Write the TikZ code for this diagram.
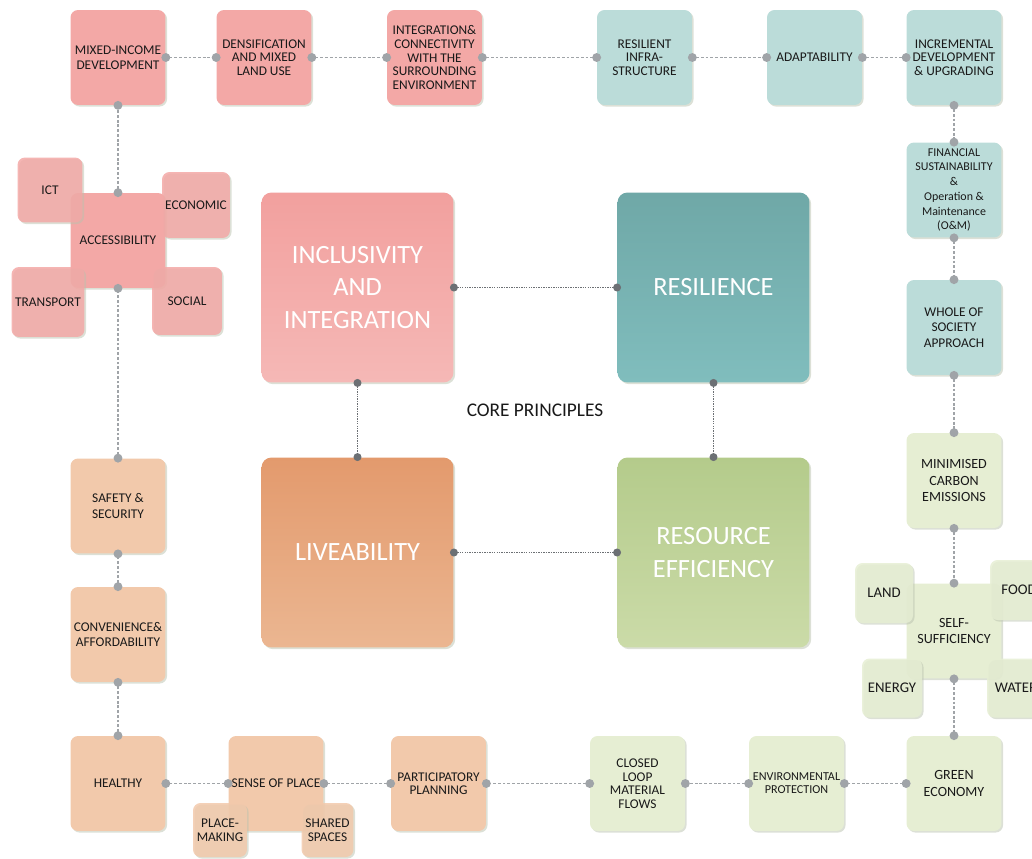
\documentclass[tikz,border=0pt]{standalone}
\usepackage{fontspec}
\setmainfont{Carlito}
\usetikzlibrary{arrows.meta,shadows}
\definecolor{incpink}{HTML}{F3A8A6}
\definecolor{respale}{HTML}{BBDCD9}
\definecolor{livpale}{HTML}{F2C9AB}
\definecolor{effpale}{HTML}{E6EED3}
\definecolor{incltop}{HTML}{F2A09E}
\definecolor{inclbot}{HTML}{F5B8B6}
\definecolor{resiltop}{HTML}{6FA8A7}
\definecolor{resilbot}{HTML}{80BDBD}
\definecolor{livetop}{HTML}{E39A6D}
\definecolor{livebot}{HTML}{EBB691}
\definecolor{efftop}{HTML}{B4CB8B}
\definecolor{effbot}{HTML}{CBDBA8}
\definecolor{linkgray}{HTML}{A0A4A8}
\definecolor{coregray}{HTML}{6C7074}
\definecolor{shadowgray}{HTML}{B9C2AE}
\begin{document}
\begin{tikzpicture}[x=0.02cm,y=-0.02cm,
    box/.style={rounded corners=0.15cm, minimum width=1.9cm, minimum height=1.9cm,
      inner sep=1pt, align=center, text=black!90,
      font=\fontsize{7.6}{8.8}\selectfont,
      drop shadow={shadow xshift=0.9pt, shadow yshift=-0.9pt, opacity=0.5, fill=shadowgray}},
    tight/.style={font=\fontsize{7.6}{7.7}\selectfont},
    large/.style={font=\fontsize{8}{9.4}\selectfont},
    inc/.style={box, fill=incpink},
    res/.style={box, fill=respale},
    liv/.style={box, fill=livpale},
    eff/.style={box, fill=effpale},
    sat/.style={fill opacity=0.85, text opacity=1},
    principle/.style={rounded corners=0.2cm, minimum width=3.84cm, minimum height=3.8cm,
      align=center, text=white, font=\fontsize{15}{18.4}\selectfont,
      drop shadow={shadow xshift=1pt, shadow yshift=-1pt, opacity=0.5, fill=shadowgray}},
    link/.style={draw=linkgray, line width=0.8pt, dash pattern=on 1.6pt off 1.1pt,
      {Circle[length=5pt]}-{Circle[length=5pt]}, shorten <=-2.5pt, shorten >=-2.5pt},
    corelink/.style={link, draw=coregray, dash pattern=on 0.8pt off 0.6pt,
      {Circle[length=4.5pt]}-{Circle[length=4.5pt]}, shorten <=-2.2pt, shorten >=-2.2pt}]
\useasboundingbox (0,0) rectangle (1032,859);
\clip (0,0) rectangle (1032,859);

% core principles
\node[principle, top color=incltop, bottom color=inclbot] (incl) at (357.5,287.5) {INCLUSIVITY\\AND\\INTEGRATION};
\node[principle, top color=resiltop, bottom color=resilbot] (resil) at (713.5,287.5) {RESILIENCE};
\node[principle, top color=livetop, bottom color=livebot] (live) at (357.5,552.5) {LIVEABILITY};
\node[principle, top color=efftop, bottom color=effbot] (reseff) at (713.5,552.5) {RESOURCE\\EFFICIENCY};
\node[font=\fontsize{11}{13}\selectfont, text=black!90] (core) at (535,410) {CORE PRINCIPLES};

% top row
\node[inc] (mixinc) at (118,57.5) {MIXED-INCOME\\DEVELOPMENT};
\node[inc, tight] (dens) at (264,57.5) {DENSIFICATION\\AND MIXED\\LAND USE};
\node[inc, tight] (integ) at (434.5,57.5) {INTEGRATION\&\\CONNECTIVITY\\WITH THE\\SURROUNDING\\ENVIRONMENT};
\node[res, tight] (resinf) at (644.5,57.5) {RESILIENT\\INFRA-\\STRUCTURE};
\node[res] (adapt) at (814.5,57.5) {ADAPTABILITY};
\node[res, tight] (incr) at (954,57.5) {INCREMENTAL\\DEVELOPMENT\\\& UPGRADING};

% right column
\node[res, font=\fontsize{6.8}{8.4}\selectfont] (fin) at (954,190) {FINANCIAL\\SUSTAINABILITY\\\&\\Operation \&\\Maintenance\\(O\&M)};
\node[res] (whole) at (954,327.5) {WHOLE OF\\SOCIETY\\APPROACH};
\node[eff, large] (mincarb) at (954,480.5) {MINIMISED\\CARBON\\EMISSIONS};
\node[eff, large] (selfsuf) at (954,631) {SELF-\\SUFFICIENCY};
\node[eff, sat, font=\fontsize{8.4}{9}\selectfont, minimum width=1.16cm, minimum height=1.2cm] (land) at (884,593) {LAND};
\node[eff, sat, font=\fontsize{8.4}{9}\selectfont, minimum width=1.16cm, minimum height=1.2cm] (food) at (1019,590) {FOOD};
\node[eff, sat, font=\fontsize{8.4}{9}\selectfont, minimum width=1.2cm, minimum height=1.18cm] (energy) at (892,688) {ENERGY};
\node[eff, sat, font=\fontsize{8.4}{9}\selectfont, minimum width=1.16cm, minimum height=1.18cm] (water) at (1016,688) {WATER};
\node[eff, large] (greenec) at (954,783.5) {GREEN\\ECONOMY};

% bottom row
\node[eff, font=\fontsize{6.9}{7.4}\selectfont] (envprot) at (796.5,783.5) {ENVIRONMENTAL\\PROTECTION};
\node[eff, tight] (closed) at (637.5,783.5) {CLOSED\\LOOP\\MATERIAL\\FLOWS};
\node[liv, tight] (particip) at (438.5,783.5) {PARTICIPATORY\\PLANNING};
\node[liv] (sense) at (276,783.5) {SENSE OF PLACE};
\node[liv, sat, tight, minimum width=1.08cm, minimum height=1.08cm] (placemk) at (220,830) {PLACE-\\MAKING};
\node[liv, sat, tight, minimum width=1.04cm, minimum height=1.08cm] (shared) at (327.5,830) {SHARED\\SPACES};
\node[liv] (healthy) at (118,783.5) {HEALTHY};

% left column
\node[liv] (conv) at (118,634.5) {CONVENIENCE\&\\AFFORDABILITY};
\node[liv] (safety) at (118,506) {SAFETY \&\\SECURITY};
\node[inc] (access) at (118,240.5) {ACCESSIBILITY};
\node[inc, sat, minimum width=1.3cm, minimum height=1.3cm] (ict) at (50,190) {ICT};
\node[inc, sat, minimum width=1.36cm, minimum height=1.32cm] (econ) at (196,205) {ECONOMIC};
\node[inc, sat, minimum width=1.46cm, minimum height=1.4cm] (transp) at (48,302) {TRANSPORT};
\node[inc, sat, minimum width=1.4cm, minimum height=1.36cm] (social) at (187,301) {SOCIAL};

\draw[corelink] (incl) -- (resil);
\draw[corelink] (incl) -- (live);
\draw[corelink] (resil) -- (reseff);
\draw[corelink] (live) -- (reseff);

\draw[link] (mixinc) -- (dens);
\draw[link] (dens) -- (integ);
\draw[link] (integ) -- (resinf);
\draw[link] (resinf) -- (adapt);
\draw[link] (adapt) -- (incr);
\draw[link] (incr) -- (fin);
\draw[link] (fin) -- (whole);
\draw[link] (whole) -- (mincarb);
\draw[link] (mincarb) -- (selfsuf);
\draw[link] (selfsuf) -- (greenec);
\draw[link] (greenec) -- (envprot);
\draw[link] (envprot) -- (closed);
\draw[link] (closed) -- (particip);
\draw[link] (particip) -- (sense);
\draw[link] (sense) -- (healthy);
\draw[link] (healthy) -- (conv);
\draw[link] (conv) -- (safety);
\draw[link] (safety) -- (access);
\draw[link] (access) -- (mixinc);
\end{tikzpicture}
\end{document}
